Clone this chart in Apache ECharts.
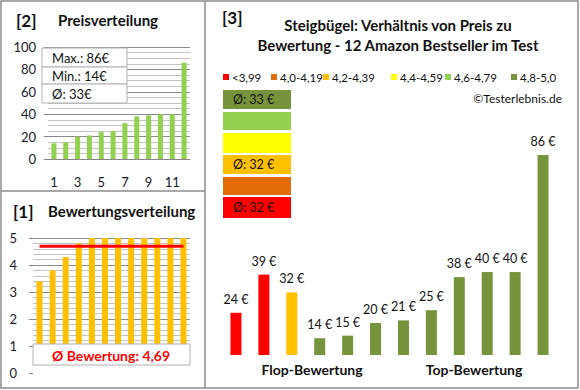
<!DOCTYPE html>
<html><head><meta charset="utf-8">
<script src="https://cdn.jsdelivr.net/npm/echarts@6/dist/echarts.min.js"></script>
<style>html,body{margin:0;padding:0;background:#fff}#c{width:580px;height:390px}</style>
</head><body><div id="c"></div>
<script>
const priceCats = ['1','2','3','4','5','6','7','8','9','10','11','12'];
const priceSorted = [14,15,20,21,24,25,32,38,39,40,40,86];
const ratingSorted = [3.4,3.8,4.3,4.8,5,5,5,5,5,5,5,5];
const avgRating = 4.69;
const mainPrices = [24,39,32,14,15,20,21,25,38,40,40,86];
const mainRatings = [3.4,3.8,4.3,4.8,5,5,5,5,5,5,5,5];
const bandLabels = ['<3,99','4,0-4,19','4,2-4,39','4,4-4,59','4,6-4,79','4,8-5,0'];
const bandMin = [0,4.0,4.2,4.4,4.6,4.8];
const bandColors = ['#FF0000','#E36C09','#FFC000','#FFFF00','#92D050','#77933C'];
const boxLabels = ['Ø: 33 €','','','Ø: 32 €','','Ø: 32 €']; // top (4,8-5,0) to bottom (<3,99)
const infoLabels = ['Max.: 86€','Min.: 14€','Ø: 33€'];
const titleText = ['Steigbügel: Verhältnis von Preis zu','Bewertung - 12 Amazon Bestseller im Test'];

const F = 'Lato, "Liberation Sans", sans-serif';
function bandColor(r){let c=bandColors[0];for(let i=0;i<bandMin.length;i++){if(r>=bandMin[i]-1e-9)c=bandColors[i];}return c;}

const chart = echarts.init(document.getElementById('c'), null, {renderer:'svg'});
const graphic = [];
const gray = '#8c8c8c';
// frame
graphic.push({type:'rect',shape:{x:1,y:1,width:577,height:387},style:{fill:'none',stroke:gray,lineWidth:1.5},z:100});
graphic.push({type:'line',shape:{x1:205,y1:1,x2:205,y2:388},style:{stroke:gray,lineWidth:1.5},z:100});
graphic.push({type:'line',shape:{x1:1,y1:191,x2:205,y2:191},style:{stroke:gray,lineWidth:1.5},z:100});
// panel titles
graphic.push({type:'text',x:16,y:20,style:{text:'[2]',font:'bold 17px '+F,fill:'#111',textVerticalAlign:'middle'}});
graphic.push({type:'text',x:58,y:20,style:{text:'Preisverteilung',font:'bold 15px '+F,fill:'#111',textVerticalAlign:'middle'}});
graphic.push({type:'text',x:13,y:211,style:{text:'[1]',font:'bold 17px '+F,fill:'#111',textVerticalAlign:'middle'}});
graphic.push({type:'text',x:48,y:211,style:{text:'Bewertungsverteilung',font:'bold 15px '+F,fill:'#111',textVerticalAlign:'middle'}});
graphic.push({type:'text',x:222,y:17,style:{text:'[3]',font:'bold 17px '+F,fill:'#111',textVerticalAlign:'middle'}});
graphic.push({type:'text',x:398,y:25,style:{text:titleText[0],font:'bold 15px '+F,fill:'#111',textAlign:'center',textVerticalAlign:'middle'}});
graphic.push({type:'text',x:398,y:45,style:{text:titleText[1],font:'bold 15px '+F,fill:'#111',textAlign:'center',textVerticalAlign:'middle'}});
// info box
const ib = {x:42,y:48,w:85,rows:[48,67,84,103]};
for(let i=0;i<3;i++){
  graphic.push({type:'rect',shape:{x:ib.x,y:ib.rows[i],width:ib.w,height:ib.rows[i+1]-ib.rows[i]},style:{fill:'#fff',stroke:'#b0b0b0',lineWidth:1},z:50});
  graphic.push({type:'text',x:52,y:(ib.rows[i]+ib.rows[i+1])/2,style:{text:infoLabels[i],font:'13px '+F,fill:'#111',textVerticalAlign:'middle'},z:51});
}
// rating avg box
graphic.push({type:'rect',shape:{x:33,y:364,width:157,height:12},style:{fill:'#fff'},z:49});
graphic.push({type:'rect',shape:{x:33,y:344,width:157,height:21},style:{fill:'#fff',stroke:'#b0b0b0',lineWidth:1},z:50});
graphic.push({type:'text',x:111,y:355,style:{text:'Ø Bewertung: '+String(avgRating).replace('.',','),font:'bold 14px '+F,fill:'#FF0000',textAlign:'center',textVerticalAlign:'middle'},z:51});
// legend
const legSq = [223,271,323,391,445,511];
for(let i=0;i<bandLabels.length;i++){
  graphic.push({type:'rect',shape:{x:legSq[i],y:74,width:6,height:6},style:{fill:bandColors[i]}});
  graphic.push({type:'text',x:legSq[i]+9,y:77,style:{text:bandLabels[i],font:'11.5px '+F,fill:'#111',textVerticalAlign:'middle'}});
}
graphic.push({type:'text',x:562,y:98,style:{text:'©Testerlebnis.de',font:'12px '+F,fill:'#111',textAlign:'right',textVerticalAlign:'middle'}});
// color boxes
const boxY = [[90,109],[112,130],[133,153],[155,174],[177,195],[197,218]];
for(let i=0;i<6;i++){
  const col = bandColors[5-i];
  graphic.push({type:'rect',shape:{x:223,y:boxY[i][0],width:68,height:boxY[i][1]-boxY[i][0]},style:{fill:col}});
  if(boxLabels[i]) graphic.push({type:'text',x:233,y:(boxY[i][0]+boxY[i][1])/2,style:{text:boxLabels[i],font:'12.5px '+F,fill:'#111',textVerticalAlign:'middle'}});
}
graphic.push({type:'text',x:312,y:369,style:{text:'Flop-Bewertung',font:'bold 14px '+F,fill:'#111',textAlign:'center',textVerticalAlign:'middle'}});
graphic.push({type:'text',x:474,y:369,style:{text:'Top-Bewertung',font:'bold 14px '+F,fill:'#111',textAlign:'center',textVerticalAlign:'middle'}});

const axLabel = {fontFamily:F,fontSize:13,color:'#1a1a2a'};
chart.setOption({
  animation:false,
  graphic: graphic,
  grid:[
    {left:48,top:47,width:142,height:112},
    {left:33,top:238,width:157,height:135},
    {left:222,top:155,width:335,height:200}
  ],
  xAxis:[
    {gridIndex:0,type:'category',data:priceCats,axisTick:{show:false},axisLine:{lineStyle:{color:'#868686'}},axisLabel:Object.assign({interval:1,margin:16},axLabel)},
    {gridIndex:1,type:'category',data:priceCats,axisTick:{show:false},axisLine:{show:false},axisLabel:{show:false}},
    {gridIndex:2,type:'category',data:priceCats,show:false}
  ],
  yAxis:[
    {gridIndex:0,type:'value',min:0,max:100,interval:20,axisLine:{show:false},axisTick:{show:true,length:4,lineStyle:{color:'#868686'}},axisLabel:Object.assign({margin:12},axLabel),
      splitLine:{lineStyle:{color:'#8c8c8c'}},minorTick:{show:false,splitNumber:4},minorSplitLine:{show:true,lineStyle:{color:'#c4c4c4'}}},
    {gridIndex:1,type:'value',min:0,max:5,interval:1,axisLine:{show:false},axisTick:{show:true,length:4,lineStyle:{color:'#868686'}},axisLabel:Object.assign({margin:16},axLabel),
      splitLine:{lineStyle:{color:'#8c8c8c'}},minorTick:{show:false,splitNumber:5},minorSplitLine:{show:true,lineStyle:{color:'#c4c4c4'}}},
    {gridIndex:2,type:'value',min:7.4,max:86,show:false,splitLine:{show:false}}
  ],
  series:[
    {type:'bar',xAxisIndex:0,yAxisIndex:0,data:priceSorted,barWidth:5,itemStyle:{color:'#92D050'}},
    {type:'bar',xAxisIndex:1,yAxisIndex:1,data:ratingSorted,barWidth:6,itemStyle:{color:'#FFC000'}},
    {type:'line',xAxisIndex:1,yAxisIndex:1,data:ratingSorted.map(()=>avgRating),symbol:'none',lineStyle:{color:'#FF0000',width:3},z:5},
    {type:'bar',xAxisIndex:2,yAxisIndex:2,barWidth:11,
      data:mainPrices.map((v,i)=>({value:v,itemStyle:{color:bandColor(mainRatings[i])}})),
      label:{show:true,position:'top',distance:7,formatter:p=>p.value+' €',fontFamily:F,fontSize:12.5,color:'#111'}}
  ]
});
</script></body></html>
